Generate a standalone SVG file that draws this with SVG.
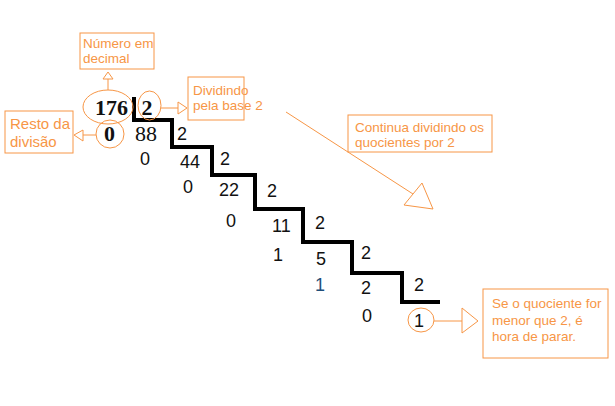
<svg xmlns="http://www.w3.org/2000/svg" width="615" height="406" viewBox="0 0 615 406">
<style>
.o{fill:none;stroke:#f79646;stroke-width:1}
.ot{fill:#f79646;font-family:"Liberation Sans",Arial,sans-serif;font-size:13.5px}
.s{font-family:"Liberation Serif","Times New Roman",serif;font-size:22px;fill:#111}
.n{font-family:"Liberation Sans",Arial,sans-serif;font-size:18px;fill:#111}
.tri{fill:#fff;stroke:#f79646;stroke-width:1}
</style>
<rect width="615" height="406" fill="#fff"/>
<g id="connectors">
<path d="M134,97 V120 H172 V147 H212 V175 H255 V209 H303 V242 H352 V273 H402 V302 H440" fill="none" stroke="#000" stroke-width="4" stroke-linejoin="miter"/>
<line class="o" x1="108" y1="90" x2="108" y2="79"/>
<polygon class="tri" points="103,79 113,79 108,72"/>
<line class="o" x1="161" y1="108" x2="178" y2="108"/>
<polygon class="tri" points="178,102 178,114 187,108"/>
<line class="o" x1="96" y1="135" x2="83" y2="135"/>
<polygon class="tri" points="83,130 83,141 74,135"/>
<line class="o" x1="286" y1="112" x2="413" y2="194"/>
<polygon class="tri" points="422,183 433,209 404,205"/>
<line class="o" x1="434" y1="321" x2="462" y2="321"/>
<polygon class="tri" points="462,308 462,333 478,321"/>
</g>
<g id="numero">
<rect class="o" x="80" y="33" width="74" height="36"/>
<text class="ot" x="83" y="48">Número em</text>
<text class="ot" x="83" y="63">decimal</text>
</g>
<g id="dividindo">
<rect class="o" x="188" y="77" width="56" height="43"/>
<text class="ot" x="193" y="95">Dividindo</text>
<text class="ot" x="193" y="110">pela base 2</text>
</g>
<g id="resto">
<rect class="o" x="5" y="111" width="68" height="42"/>
<text class="ot" x="10" y="129" style="font-size:15px">Resto da</text>
<text class="ot" x="10" y="147" style="font-size:15px">divisão</text>
</g>
<g id="continua">
<rect class="o" x="348" y="115" width="144" height="37"/>
<text class="ot" x="355" y="132">Continua dividindo os</text>
<text class="ot" x="355" y="147">quocientes por 2</text>
</g>
<g id="parar">
<rect class="o" x="483" y="289" width="125" height="69"/>
<text class="ot" x="492" y="308">Se o quociente for</text>
<text class="ot" x="492" y="325">menor que 2, é</text>
<text class="ot" x="492" y="341">hora de parar.</text>
</g>
<g id="dividendo">
<ellipse class="o" cx="108" cy="107" rx="25" ry="17"/>
<text class="s" x="95" y="115" font-weight="bold">176</text>
</g>
<g id="divisor">
<ellipse class="o" cx="149.5" cy="105.5" rx="11.5" ry="14.5"/>
<text class="s" x="141.5" y="115" font-weight="bold">2</text>
</g>
<g id="resto0">
<ellipse class="o" cx="110" cy="134" rx="14" ry="14"/>
<text class="s" x="104" y="141" font-weight="bold">0</text>
</g>
<g id="steps">
<text class="s" x="135" y="141">88</text>
<text class="n" x="177" y="140">2</text>
<text class="n" x="140" y="165">0</text>
<text class="n" x="180" y="168">44</text>
<text class="n" x="220" y="165">2</text>
<text class="n" x="183" y="193">0</text>
<text class="n" x="219" y="196">22</text>
<text class="n" x="267" y="197">2</text>
<text class="n" x="226" y="227">0</text>
<text class="n" x="272" y="232">11</text>
<text class="n" x="315" y="229">2</text>
<text class="n" x="273" y="261">1</text>
<text class="n" x="316" y="265">5</text>
<text class="n" x="361" y="259">2</text>
<text class="n" x="315" y="291" style="fill:#1f4e79">1</text>
<text class="n" x="361" y="294">2</text>
<text class="n" x="414" y="291">2</text>
<text class="n" x="362" y="322">0</text>
</g>
<g id="final">
<ellipse class="o" cx="421" cy="320" rx="13" ry="12"/>
<text class="n" x="414" y="327">1</text>
</g>
</svg>
